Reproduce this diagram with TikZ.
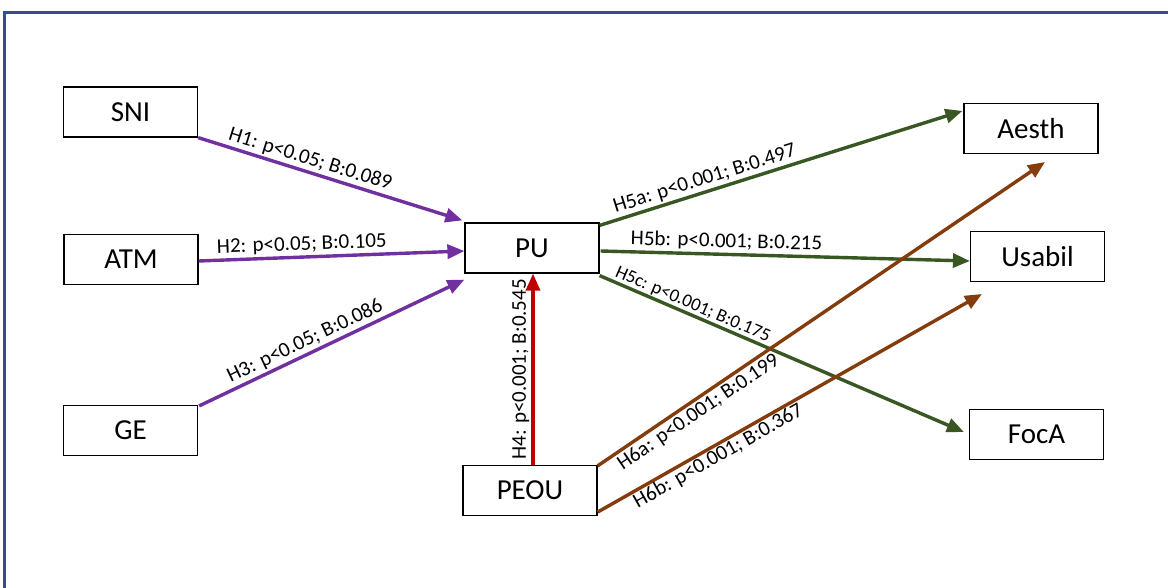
\documentclass[tikz,border=0pt]{standalone}
\usepackage{fontspec}
\setmainfont{Carlito}
\usetikzlibrary{arrows.meta,calc}
\definecolor{framecol}{RGB}{47,82,143}
\definecolor{hpurple}{RGB}{112,48,160}
\definecolor{hred}{RGB}{192,0,0}
\definecolor{hgreen}{RGB}{56,87,35}
\definecolor{hbrown}{RGB}{132,60,12}
\begin{document}
\begin{tikzpicture}[x=1pt,y=-1pt,
  box/.style={draw=black,line width=1.2pt,fill=white,minimum width=134pt,minimum height=50pt,inner sep=0pt,font=\fontsize{29}{31}\selectfont},
  path/.style={line width=3.4pt,-{Triangle[length=17pt,width=14pt]}},
  lbl/.style={sloped,font=\fontsize{21}{23}\selectfont,inner sep=2pt}]
\clip (0,0) rectangle (1168,588);
\fill[white] (0,0) rectangle (1168,588);
% outer frame
\draw[framecol,line width=3pt] (4,600) -- (4,13) -- (1180,13);

% constructs
\node[box] (SNI) at (130.5,112) {SNI};
\node[box] (ATM) at (131,259.5) {ATM};
\node[box] (GE) at (130.5,430.5) {GE};
\node[box] (PU) at (532,248) {PU};
\node[box] (PEOU) at (530,490.5) {PEOU};
\node[box] (Aesth) at (1031,128.5) {Aesth};
\node[box] (Usabil) at (1037.5,256.5) {Usabil};
\node[box] (FocA) at (1036.5,434.5) {FocA};

\coordinate (toAesth) at (1045,162);
\coordinate (toUsabil) at (982,294);

% H1--H3
\draw[path,hpurple] (SNI.south east) -- ($(PU.north west)+(-2,-2)$)
  node[lbl,above,pos=0.41,text=black] {H1: p<0.05; B:0.089};
\draw[path,hpurple] ($(ATM.east)+(0,1.5)$) -- ($(PU.west)+(0,3)$)
  node[lbl,above,pos=0.39,text=black] {H2: p<0.05; B:0.105};
\draw[path,hpurple] ($(GE.north east)+(1,1)$) -- ($(PU.south west)+(0,6)$)
  node[lbl,above,pos=0.42,text=black] {H3: p<0.05; B:0.086};

% H4
\draw[path,hred] ($(PEOU.north)+(3,0)$) -- ($(PU.south)+(1,0)$)
  node[lbl,above,pos=0.5,text=black] {H4: p<0.001; B:0.545};

% H5a--H5c
\draw[path,hgreen] ($(PU.north east)+(0,3)$) -- ($(Aesth.north west)+(-1,8)$)
  node[lbl,above,pos=0.30,text=black] {H5a: p<0.001; B:0.497};
\draw[path,hgreen] ($(PU.east)+(1,3)$) -- ($(Usabil.west)+(0,4.5)$)
  node[lbl,above,pos=0.34,text=black] {H5b: p<0.001; B:0.215};
\draw[path,hgreen] ($(PU.south east)+(0,2)$) -- ($(FocA.west)+(-5,-2.5)$)
  node[lbl,above,pos=0.245,inner sep=0.5pt,text=black,font=\fontsize{18.5}{20}\selectfont] {H5c: p<0.001; B:0.175};

% H6a, H6b
\draw[path,hbrown] ($(PEOU.north east)+(0,1)$) -- (toAesth)
  node[lbl,below,pos=0.21,text=black] {H6a: p<0.001; B:0.199};
\draw[path,hbrown] ($(PEOU.south east)+(0,-4)$) -- (toUsabil)
  node[lbl,below,pos=0.30,inner sep=0.5pt,text=black] {H6b: p<0.001; B:0.367};
\end{tikzpicture}
\end{document}
